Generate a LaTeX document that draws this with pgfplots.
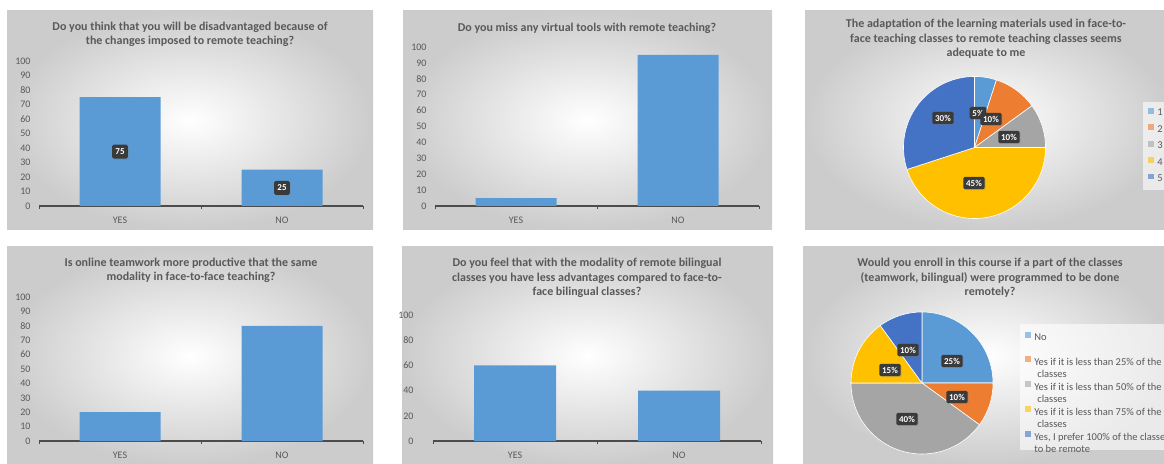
\documentclass[border=0pt]{standalone}
\usepackage{fontspec}
\setmainfont{Carlito}
\usepackage{pgfplots}
\pgfplotsset{compat=1.18}
\usetikzlibrary{shadows}

\definecolor{cLB}{HTML}{5B9BD5}
\definecolor{cOR}{HTML}{ED7D31}
\definecolor{cGR}{HTML}{A5A5A5}
\definecolor{cYE}{HTML}{FFC000}
\definecolor{cDB}{HTML}{4472C4}
\definecolor{txt}{HTML}{595959}
\definecolor{lab}{HTML}{3A3A3A}

\tikzset{
  datalab/.style={fill=lab, text=white, font=\bfseries\fontsize{9}{10.8}\selectfont,
    rounded corners=1.5pt, inner xsep=2.8pt, inner ysep=3pt,
    drop shadow={opacity=0.35, shadow xshift=1pt, shadow yshift=-1pt}},
}
\pgfplotsset{
  barpanel/.style={
    scale only axis, width=324pt,
    xmin=-0.5, xmax=1.5, ymin=0, ymax=100,
    axis x line*=bottom, axis y line*=left,
    y axis line style={draw=none},
    x axis line style={draw=black!70, line width=1.1pt, -},
    xtick={0,1}, xticklabels={YES,NO},
    major x tick style={draw=none},
    minor xtick={-0.5,0.5,1.5},
    minor x tick style={draw=black!70, line width=1pt},
    minor tick length=3pt,
    tick align=outside,
    ytick style={draw=none},
    ticklabel style={font=\fontsize{10}{12}\selectfont, text=txt},
    /pgf/number format/assume math mode=true,
    yticklabel style={anchor=east, inner sep=0pt, xshift=-4pt},
    xticklabel style={anchor=north, inner sep=0pt, yshift=-7pt},
    clip=false,
  },
  piepanel/.style={
    x=1pt, y=1pt, hide axis, clip=false,
    xmin=-72, xmax=72, ymin=-72, ymax=72,
    anchor=origin,
    legend cell align=left,
  },
  wedge/.style={draw=white, line width=0.6pt, samples=25},
}
\newcommand{\ptitle}{\bfseries\fontsize{12}{14.5}\selectfont}
\newcommand{\lent}[1]{\begin{tabular}[t]{@{}l@{}}#1\end{tabular}}

\begin{document}
\begin{tikzpicture}[x=1pt, y=1pt]
\useasboundingbox (0,0) rectangle (1164,463);

% panel backgrounds
\shade[inner color=white, outer color=black!20] (7,233) rectangle (373,452);
\shade[inner color=white, outer color=black!20] (403,233) rectangle (772,452);
\shade[inner color=white, outer color=black!20] (805,233) rectangle (1170,452);
\shade[inner color=white, outer color=black!20] (7,-2) rectangle (373,216);
\shade[inner color=white, outer color=black!20] (402,-2) rectangle (773,216);
\shade[inner color=white, outer color=black!20] (803,-2) rectangle (1170,216);

% titles
\node[align=center, font=\ptitle, text=txt] at (190,428.5)
  {Do you think that you will be disadvantaged because of\\the changes imposed to remote teaching?};
\node[align=center, font=\ptitle, text=txt] at (587,435)
  {Do you miss any virtual tools with remote teaching?};
\node[align=center, font=\ptitle, text=txt] at (986,424)
  {The adaptation of the learning materials used in face-to-\\face teaching classes to remote teaching classes seems\\adequate to me};
\node[align=center, font=\ptitle, text=txt] at (191,192.5)
  {Is online teamwork more productive that the same\\modality in face-to-face teaching?};
\node[align=center, font=\ptitle, text=txt] at (587,185)
  {Do you feel that with the modality of remote bilingual\\classes you have less advantages compared to face-to-\\face bilingual classes?};
\node[align=center, font=\ptitle, text=txt] at (990,185)
  {Would you enroll in this course if a part of the classes\\(teamwork, bilingual) were programmed to be done\\remotely?};

% Panel 1
\begin{axis}[barpanel, at={(39pt,257pt)}, anchor=south west, height=145pt, ytick={0,10,...,100}]
\addplot[ybar, bar width=81pt, fill=cLB, draw=none] coordinates {(0,75) (1,25)};
\addplot[draw=none, mark=none, nodes near coords, point meta=explicit symbolic,
  every node near coord/.style={datalab, anchor=center, inner ysep=4pt, inner xsep=3.2pt}]
  coordinates {(0,37.5) [75] (1,12.5) [25]};
\end{axis}

% Panel 2
\begin{axis}[barpanel, at={(435pt,257pt)}, anchor=south west, height=159pt, ytick={0,10,...,100}]
\addplot[ybar, bar width=81pt, fill=cLB, draw=none] coordinates {(0,5) (1,95)};
\end{axis}

% Panel 4
\begin{axis}[barpanel, at={(39pt,22pt)}, anchor=south west, height=144pt, ytick={0,10,...,100}]
\addplot[ybar, bar width=81pt, fill=cLB, draw=none] coordinates {(0,20) (1,80)};
\end{axis}

% Panel 5
\begin{axis}[barpanel, at={(433pt,22pt)}, anchor=south west, width=328pt, height=126pt, ytick={0,20,...,100},
  yticklabel style={xshift=-11pt}]
\addplot[ybar, bar width=82pt, fill=cLB, draw=none] coordinates {(0,60) (1,40)};
\end{axis}

% Panel 3 pie: 5, 10, 10, 45, 30 percent, clockwise from 12 o'clock
\begin{axis}[piepanel, at={(974.5pt,315.5pt)},
  legend image code/.code={\fill[#1,draw=none] (0pt,-0.2pt) rectangle (5.6pt,5.4pt);},
  legend style={at={(1.670,0.816)}, anchor=north west, draw=none, fill=white,
    fill opacity=0.6, text opacity=1, font=\fontsize{10.5}{12.6}\selectfont, text=txt,
    row sep=4.2pt, inner xsep=5pt, inner ysep=5pt,
    /tikz/every odd column/.append style={column sep=1.5pt}}]
\addplot[wedge, fill=cLB, domain=72:90] ({71*cos(x)},{71*sin(x)}) -- (0,0) -- cycle;
\addlegendentry{1}
\addplot[wedge, fill=cOR, domain=36:72] ({71*cos(x)},{71*sin(x)}) -- (0,0) -- cycle;
\addlegendentry{2}
\addplot[wedge, fill=cGR, domain=0:36] ({71*cos(x)},{71*sin(x)}) -- (0,0) -- cycle;
\addlegendentry{3}
\addplot[wedge, fill=cYE, domain=-162:0, samples=60] ({71*cos(x)},{71*sin(x)}) -- (0,0) -- cycle;
\addlegendentry{4}
\addplot[wedge, fill=cDB, domain=-270:-162, samples=45] ({71*cos(x)},{71*sin(x)}) -- (0,0) -- cycle;
\addlegendentry{5}
\addplot[draw=none, mark=none, nodes near coords, point meta=explicit symbolic,
  every node near coord/.style={datalab, anchor=center}, forget plot]
  coordinates {(3.5,34.5) [5\%] (16.5,28.5) [10\%] (34.5,10.5) [10\%] (-0.5,-35.5) [45\%] (-31.5,29.5) [30\%]};
\end{axis}

% Panel 6 pie: 25, 10, 40, 15, 10 percent, clockwise from 12 o'clock
\begin{axis}[piepanel, at={(922pt,80pt)},
  legend image code/.code={\fill[#1,draw=none] (0pt,-0.2pt) rectangle (5.6pt,5.4pt);},
  legend style={at={(1.1806,0.9097)}, anchor=north west, draw=none, fill=white,
    fill opacity=0.6, text opacity=1, font=\fontsize{10.5}{12.4}\selectfont, text=txt,
    row sep=14.5pt, inner xsep=5pt, inner ysep=8pt,
    nodes={inner ysep=0pt},
    /tikz/every odd column/.append style={column sep=1.5pt}}]
\addplot[wedge, fill=cLB, domain=0:90, samples=35] ({71*cos(x)},{71*sin(x)}) -- (0,0) -- cycle;
\addlegendentry{No}
\addplot[wedge, fill=cOR, domain=-36:0] ({71*cos(x)},{71*sin(x)}) -- (0,0) -- cycle;
\addlegendentry{\lent{Yes if it is less than 25\% of the\\\hspace*{3pt}classes}}
\addplot[wedge, fill=cGR, domain=-180:-36, samples=55] ({71*cos(x)},{71*sin(x)}) -- (0,0) -- cycle;
\addlegendentry{\lent{Yes if it is less than 50\% of the\\\hspace*{3pt}classes}}
\addplot[wedge, fill=cYE, domain=126:180] ({71*cos(x)},{71*sin(x)}) -- (0,0) -- cycle;
\addlegendentry{\lent{Yes if it is less than 75\% of the\\\hspace*{3pt}classes}}
\addplot[wedge, fill=cDB, domain=90:126] ({71*cos(x)},{71*sin(x)}) -- (0,0) -- cycle;
\addlegendentry{\lent{Yes, I prefer 100\% of the classes\\to be remote}}
\addplot[draw=none, mark=none, nodes near coords, point meta=explicit symbolic,
  every node near coord/.style={datalab, anchor=center}, forget plot]
  coordinates {(30,22) [25\%] (35,-14) [10\%] (-15,-36) [40\%] (-32,13) [15\%] (-14,33) [10\%]};
\end{axis}
\end{tikzpicture}
\end{document}
